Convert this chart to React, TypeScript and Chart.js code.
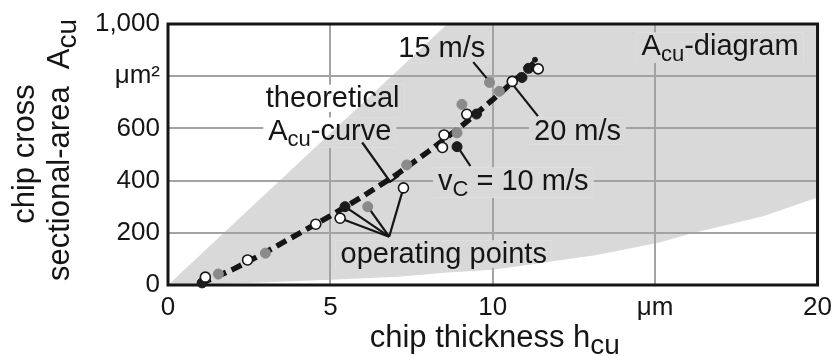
import React, { useEffect, useRef } from "react";
import { Chart, registerables } from "chart.js";

Chart.register(...registerables);

// ---------- data ----------
const X_MIN = 0;
const X_MAX = 20;
const Y_MIN = 0;
const Y_MAX = 1000;
const X_TICK_VALUES = [0, 5, 10, 15, 20];
const X_TICK_LABELS = ["0", "5", "10", "μm", "20"];
const Y_TICK_VALUES = [0, 200, 400, 600, 800, 1000];
const Y_TICK_LABELS = ["0", "200", "400", "600", "μm²", "1,000"];

// operating points, v_c = 10 m/s (black)
const V10_H = [1.05, 5.45, 8.9, 9.5, 10.9, 11.1];
const V10_A = [8, 300, 530, 655, 795, 830];
// operating points, v_c = 15 m/s (grey)
const V15_H = [1.55, 3.0, 6.15, 7.35, 8.9, 9.05, 9.9, 10.2];
const V15_A = [42, 122, 300, 460, 583, 692, 776, 742];
// operating points, v_c = 20 m/s (open)
const V20_H = [1.15, 2.45, 4.55, 5.3, 7.25, 8.45, 8.5, 9.2, 10.6, 11.4];
const V20_A = [30, 96, 233, 256, 372, 527, 575, 654, 780, 828];
// theoretical A_cu curve
const THEORY_H = [1.0, 2, 3, 4, 5, 6, 7, 8, 9, 10, 11, 11.3];
const THEORY_A = [5, 60, 125, 195, 265, 340, 420, 510, 605, 710, 820, 855];
const THEORY_END_H = [11.3];
const THEORY_END_A = [863];
// grey A_cu-diagram region edges
const UPPER_EDGE_H = [0, 8.6];
const UPPER_EDGE_A = [0, 1000];
const LOWER_EDGE_H = [0, 2.5, 5, 7.1, 8.6, 10, 13.2, 15.1, 16.2, 18.3, 20];
const LOWER_EDGE_A = [0, 8, 20, 32, 48, 58, 115, 162, 200, 262, 335];

// ---------- styling / annotation layout ----------
const FONT = "'Liberation Sans', Arial, Helvetica, sans-serif";
const GRAY_FILL = "#d9d9d9";
const GRID = "#a3a3a3";
const INK = "#151515";

type Part = { t: string; sub?: boolean };
type Label = { parts: Part[]; h: number; a: number; size: number };

const LABELS: Label[] = [
  { parts: [{ t: "15 m/s" }], h: 8.43, a: 872, size: 29 },
  { parts: [{ t: "A" }, { t: "cu", sub: true }, { t: "-diagram" }], h: 17.0, a: 881, size: 29 },
  { parts: [{ t: "theoretical" }], h: 5.07, a: 682, size: 29 },
  { parts: [{ t: "A" }, { t: "cu", sub: true }, { t: "-curve" }], h: 4.98, a: 556, size: 29 },
  { parts: [{ t: "20 m/s" }], h: 12.61, a: 556, size: 29 },
  { parts: [{ t: "v" }, { t: "C", sub: true }, { t: " = 10 m/s" }], h: 10.63, a: 364, size: 29 },
  { parts: [{ t: "operating points" }], h: 8.49, a: 84, size: 29 },
];

const LEADERS: number[][][] = [
  [[9.4, 854], [9.86, 785]],
  [[10.63, 766], [11.39, 647]],
  [[8.92, 529], [9.31, 456]],
  [[5.98, 546], [6.84, 396], [7.11, 419]],
  [[6.81, 185], [5.3, 256]],
  [[6.81, 185], [5.45, 300]],
  [[6.81, 185], [6.15, 300]],
  [[6.81, 185], [7.25, 372]],
];

const toPts = (hs: number[], as: number[]) => hs.map((h, i) => ({ x: h, y: as[i] }));

const REGION = [
  ...toPts(UPPER_EDGE_H, UPPER_EDGE_A),
  { x: X_MAX, y: Y_MAX },
  ...toPts(LOWER_EDGE_H, LOWER_EDGE_A).reverse(),
];

function measureRich(ctx: CanvasRenderingContext2D, parts: Part[], size: number, ratio: number) {
  const sub = Math.round(size * ratio);
  const widths = parts.map((p) => {
    ctx.font = `${p.sub ? sub : size}px ${FONT}`;
    return ctx.measureText(p.t).width;
  });
  return { widths, total: widths.reduce((s, w) => s + w, 0), sub };
}

function drawRich(
  ctx: CanvasRenderingContext2D,
  parts: Part[],
  cx: number,
  baseline: number,
  size: number,
  ratio = 0.76
) {
  const { widths, total, sub } = measureRich(ctx, parts, size, ratio);
  let x = cx - total / 2;
  ctx.textAlign = "left";
  ctx.textBaseline = "alphabetic";
  parts.forEach((p, i) => {
    ctx.font = `${p.sub ? sub : size}px ${FONT}`;
    ctx.fillText(p.t, x, baseline + (p.sub ? size * 0.22 : 0));
    x += widths[i];
  });
}

const decorPlugin = {
  id: "decor",
  beforeDatasetsDraw(chart: any) {
    const { ctx, chartArea: ca, scales } = chart;
    const px = (v: number) => scales.x.getPixelForValue(v);
    const py = (v: number) => scales.y.getPixelForValue(v);
    // label boxes hide the grid lines behind the text
    for (const lb of LABELS) {
      const { total } = measureRich(ctx, lb.parts, lb.size, 0.76);
      const cx = px(lb.h);
      const by = py(lb.a);
      const hasSub = lb.parts.some((p) => p.sub);
      const r = {
        x: cx - total / 2 - 5,
        y: by - lb.size * 0.78,
        w: total + 10,
        h: lb.size * (hasSub ? 1.05 : 0.95),
      };
      ctx.save();
      ctx.beginPath();
      ctx.rect(ca.left, ca.top, ca.right - ca.left, ca.bottom - ca.top);
      ctx.clip();
      ctx.beginPath();
      ctx.rect(r.x, r.y, r.w, r.h);
      ctx.clip();
      ctx.fillStyle = "#ffffff";
      ctx.fillRect(r.x, r.y, r.w, r.h);
      ctx.beginPath();
      REGION.forEach((p, i) => {
        if (i === 0) ctx.moveTo(px(p.x), py(p.y));
        else ctx.lineTo(px(p.x), py(p.y));
      });
      ctx.closePath();
      ctx.fillStyle = GRAY_FILL;
      ctx.fill();
      ctx.restore();
    }
    // frame
    ctx.save();
    ctx.strokeStyle = INK;
    ctx.lineWidth = 3;
    ctx.strokeRect(ca.left, ca.top, ca.right - ca.left, ca.bottom - ca.top);
    // leaders
    ctx.lineWidth = 2.2;
    ctx.lineJoin = "miter";
    for (const seg of LEADERS) {
      ctx.beginPath();
      seg.forEach(([h, a], i) => {
        if (i === 0) ctx.moveTo(px(h), py(a));
        else ctx.lineTo(px(h), py(a));
      });
      ctx.stroke();
    }
    ctx.restore();
  },
  afterDraw(chart: any) {
    const { ctx, chartArea: ca, scales } = chart;
    const px = (v: number) => scales.x.getPixelForValue(v);
    const py = (v: number) => scales.y.getPixelForValue(v);
    ctx.save();
    ctx.fillStyle = INK;
    for (const lb of LABELS) {
      drawRich(ctx, lb.parts, px(lb.h), py(lb.a), lb.size);
    }
    // x axis title
    drawRich(
      ctx,
      [{ t: "chip thickness h" }, { t: "cu", sub: true }],
      (ca.left + ca.right) / 2 + 2,
      347,
      31,
      0.9
    );
    // y axis title (two rotated lines)
    ctx.save();
    ctx.translate(34, 154);
    ctx.rotate(-Math.PI / 2);
    drawRich(ctx, [{ t: "chip cross" }], 0, 0, 31);
    ctx.restore();
    ctx.save();
    ctx.translate(69, 150);
    ctx.rotate(-Math.PI / 2);
    drawRich(ctx, [{ t: "sectional-area  A" }, { t: "cu", sub: true }], 0, 0, 31, 0.9);
    ctx.restore();
    ctx.restore();
  },
};

export default function App() {
  const ref = useRef<HTMLCanvasElement | null>(null);
  useEffect(() => {
    if (!ref.current) return;
    const chart = new Chart(ref.current, {
      type: "scatter",
      data: {
        datasets: [
          {
            label: "v_c = 10 m/s",
            data: toPts(V10_H, V10_A),
            pointRadius: 5,
            pointBackgroundColor: "#1c1c1c",
            pointBorderColor: "#1c1c1c",
            pointBorderWidth: 1,
            clip: false,
            order: 1,
          } as any,
          {
            label: "v_c = 15 m/s",
            data: toPts(V15_H, V15_A),
            pointRadius: 5,
            pointBackgroundColor: "#8a8a8a",
            pointBorderColor: "#8a8a8a",
            pointBorderWidth: 1,
            clip: false,
            order: 2,
          },
          {
            label: "v_c = 20 m/s",
            data: toPts(V20_H, V20_A),
            pointRadius: 5,
            pointBackgroundColor: "#ffffff",
            pointBorderColor: "#151515",
            pointBorderWidth: 1.6,
            clip: false,
            order: 0,
          },
          {
            label: "theory end",
            data: toPts(THEORY_END_H, THEORY_END_A),
            pointRadius: 2.5,
            pointBackgroundColor: INK,
            pointBorderColor: INK,
            order: 4,
          },
          {
            label: "theoretical A_cu-curve",
            data: toPts(THEORY_H, THEORY_A),
            showLine: true,
            borderColor: INK,
            borderWidth: 5.5,
            borderDash: [11, 6],
            pointRadius: 0,
            fill: false,
            order: 5,
          },
          {
            label: "A_cu-diagram",
            data: REGION,
            showLine: true,
            borderWidth: 0,
            borderColor: "rgba(0,0,0,0)",
            backgroundColor: GRAY_FILL,
            pointRadius: 0,
            fill: "shape",
            order: 10,
          } as any,
        ],
      },
      options: {
        animation: false,
        responsive: false,
        events: [],
        layout: { padding: { left: 0, right: 16, top: 24, bottom: 0 } },
        plugins: {
          legend: { display: false },
          tooltip: { enabled: false },
          filler: { drawTime: "beforeDraw" },
        } as any,
        scales: {
          x: {
            type: "linear",
            min: X_MIN,
            max: X_MAX,
            afterFit: (s: any) => {
              s.height = 71;
            },
            afterBuildTicks: (s: any) => {
              s.ticks = X_TICK_VALUES.map((v) => ({ value: v }));
            },
            ticks: {
              color: INK,
              font: { family: FONT, size: 26 },
              padding: 7,
              maxRotation: 0,
              autoSkip: false,
              callback: (v: any) => {
                const i = X_TICK_VALUES.indexOf(Number(v));
                return i >= 0 ? X_TICK_LABELS[i] : "";
              },
            },
            grid: { color: GRID, lineWidth: 2, drawTicks: false },
            border: { display: false },
          },
          y: {
            type: "linear",
            min: Y_MIN,
            max: Y_MAX,
            afterFit: (s: any) => {
              s.width = 168;
            },
            afterBuildTicks: (s: any) => {
              s.ticks = Y_TICK_VALUES.map((v) => ({ value: v }));
            },
            ticks: {
              color: INK,
              font: { family: FONT, size: 26 },
              padding: 8,
              autoSkip: false,
              callback: (v: any) => {
                const i = Y_TICK_VALUES.indexOf(Number(v));
                return i >= 0 ? Y_TICK_LABELS[i] : "";
              },
            },
            grid: { color: GRID, lineWidth: 2, drawTicks: false },
            border: { display: false },
          },
        },
      },
      plugins: [decorPlugin],
    });
    return () => chart.destroy();
  }, []);
  return (
    <div style={{ position: "absolute", left: 0, top: 0, width: 839, height: 356, background: "#fff" }}>
      <canvas ref={ref} width={839} height={356} style={{ display: "block", width: 839, height: 356 }} />
    </div>
  );
}
